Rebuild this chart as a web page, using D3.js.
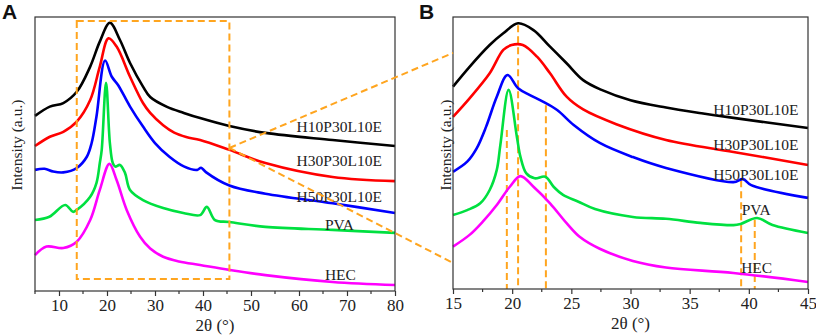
<!doctype html>
<html>
<head>
<meta charset="utf-8"/>
<script src="https://cdnjs.cloudflare.com/ajax/libs/d3/7.8.5/d3.min.js"></script>
<style>
  body { margin: 0; background: #fff; }
  svg { display: block; }
  .serif { font-family: "Liberation Serif", "Times New Roman", Times, "DejaVu Serif", serif; fill: #222; }
</style>
</head>
<body>
<svg id="chart" width="816" height="335"></svg>
<script>
// series names / colours
var names = ["H10P30L10E", "H30P30L10E", "H50P30L10E", "PVA", "HEC"];
var colors = ["#000000", "#ff0000", "#0000ff", "#00e040", "#ff00ff"];

// panel A: full scan 5-80 deg, [2theta, intensity a.u.]
var aH10 = [[5,63.9],[8.1,67.3],[10.9,68.6],[13.7,72.7],[16.5,81.9],[18.5,91.0],[20.6,97.9],[22.7,91.6],[24.8,83.2],[27.5,74.6],[29,70.8],[32.5,67.2],[36,65],[39.4,63.1],[45.5,60.2],[53,57.7],[67,55.1],[80,52.9]];
var aH30 = [[5,52.9],[8.1,56.3],[10.9,58.1],[13.7,61.8],[16.5,69.7],[18.5,81.9],[20.3,92.2],[22,89.2],[24.8,78.2],[27.5,68.6],[29,65],[31.7,60.5],[34,57.8],[36.5,56.2],[39.4,55.1],[45.5,51.5],[53,46.7],[67,41.6],[80,40.1]];
var aH50 = [[5,44.2],[7,44.6],[8.8,43.6],[10.9,43.3],[13.7,44.9],[15.8,49.0],[16.8,54.0],[17.8,63.6],[19.6,84.1],[21,78.2],[22.3,75.2],[24.8,67.3],[27.5,60],[30,54],[33,49],[36,45.5],[38.8,44.2],[39.6,45.0],[40.6,43.4],[45.5,38.5],[53,35.5],[67,32],[80,28.5]];
var aPVA = [[5,25.9],[8,27.1],[11.3,31.4],[12.9,28.9],[13.7,29.6],[16.5,34.4],[17.8,39.4],[18.5,46.7],[18.9,51.5],[19.8,76.0],[20.6,54.0],[21.2,46.7],[21.7,45.4],[22.7,46.0],[23.75,43.1],[24.8,36.9],[27.5,33.2],[31.7,30.3],[35.9,28.5],[39.4,27.7],[40.8,30.7],[42.5,25.9],[45.5,25.2],[53,23.4],[67,22.3],[80,21.2]];
var aHEC = [[5,13.1],[7.4,16.2],[10.9,15.7],[13.7,18.0],[16.5,25.9],[18.5,36.9],[20.5,46.4],[22,40.5],[24.1,29.6],[26.9,19.8],[29,15.5],[31.7,12.5],[35,10.8],[39.4,9.5],[45.5,7.7],[53,5.8],[67,3.3],[80,2.2]];

// panel B: zoom 15-45 deg
var bH10 = [[15,74.4],[16.4,81.7],[18.1,89.7],[19.25,94.0],[20.5,97.7],[21.8,95.2],[23.2,89.1],[24.6,83.0],[26,76.8],[27.5,73.3],[30,69.4],[33,66.7],[36,64.6],[38.7,62.9],[45,59.2]];
var bH30 = [[15,63.3],[16.4,70.1],[18.1,79.3],[19.25,87.9],[19.95,89.7],[20.9,89.7],[22.1,85.4],[23.2,79.3],[24.6,70.7],[26,66],[28.8,60.6],[33,54.8],[38.7,50.4],[45,45.6]];
var bH50 = [[15,43.1],[16.2,46.8],[17,51.7],[17.8,59.7],[18.7,70.7],[19.6,78.7],[20.5,73.8],[21.5,71.3],[22.6,68.9],[23.8,65.8],[25.2,60.3],[27.4,53.7],[30.2,48.5],[33,44.5],[38.7,39.3],[39.5,40.4],[40.2,38.2],[45,33.5]];
var bPVA = [[15,27.2],[16.2,29.0],[17.3,31.5],[18.1,36.4],[18.7,43.8],[19,52.9],[19.7,73.2],[20.4,55.9],[20.7,48.6],[21.2,42.5],[21.9,40.7],[22.8,41.3],[23.5,37.6],[24.3,34.6],[25.6,32.1],[27,29.4],[30.2,26.5],[33,25.8],[35.9,24.3],[38.7,23.5],[39.3,23.9],[40.7,26.1],[42,23.5],[45,20.6]];
var bHEC = [[15,15.6],[16.4,19.9],[17.5,24.7],[18.7,30.9],[19.8,37.6],[20.7,41.5],[21.8,37.6],[23.2,31.5],[24.6,24.2],[25.7,19.2],[27.4,14.8],[30.2,10.3],[33,7.9],[38.7,5.9],[45,2.6]];

// tick values
var aTicks = [10, 20, 30, 40, 50, 60, 70, 80];
var aMinor = [5, 15, 25, 35, 45, 55, 65, 75];
var bTicks = [15, 20, 25, 30, 35, 40, 45];
var bMinor = [17.5, 22.5, 27.5, 32.5, 37.5, 42.5];

// peak markers in B: [2theta, top intensity]
var bPeaks = [[19.55, 58.5], [20.5, 97], [22.85, 67.6], [39.35, 40], [40.5, 25.4]];
// zoom box in A
var aBox = {x0: 13.7, x1: 45.5, y0: 4.4, y1: 98.5};

// label anchors [2theta, intensity]
var aLabelPos = [[59.5,58.0],[59.5,45.6],[59.5,32.5],[65.4,22.3],[65.4,4.0]];
var bLabelPos = [[37.0,64.0],[37.0,51.1],[37.0,40.1],[39.4,27.2],[39.35,5.9]];

var svg = d3.select("#chart");
var orange = "#ffa51f";

function panel(opt) {
  var x = d3.scaleLinear().domain(opt.xdom).range([opt.left, opt.right]);
  var y = d3.scaleLinear().domain([0, 100]).range([opt.bottom, opt.top]);
  var g = svg.append("g");

  // dashed decorations behind the curves
  if (opt.peaks) {
    g.selectAll("line.peak").data(opt.peaks).enter().append("line")
      .attr("x1", d => x(d[0])).attr("x2", d => x(d[0]))
      .attr("y1", d => y(d[1])).attr("y2", y(0))
      .attr("stroke", orange).attr("stroke-width", 2)
      .attr("stroke-dasharray", "7,4");
  }

  var line = d3.line().x(d => x(d[0])).y(d => y(d[1])).curve(d3.curveCatmullRom.alpha(0.5));
  g.selectAll("path.s").data(opt.series).enter().append("path")
    .attr("d", line)
    .attr("fill", "none")
    .attr("stroke", (d, i) => colors[i])
    .attr("stroke-width", 2.6)
    .attr("stroke-linejoin", "round");

  if (opt.box) {
    var b = opt.box;
    g.append("rect")
      .attr("x", x(b.x0)).attr("y", y(b.y1))
      .attr("width", x(b.x1) - x(b.x0)).attr("height", y(b.y0) - y(b.y1))
      .attr("fill", "none").attr("stroke", orange).attr("stroke-width", 2)
      .attr("stroke-dasharray", "7,4");
  }

  // frame
  g.append("rect")
    .attr("x", opt.left).attr("y", opt.top)
    .attr("width", opt.right - opt.left).attr("height", opt.bottom - opt.top)
    .attr("fill", "none").attr("stroke", "#333").attr("stroke-width", 1.2);

  // x axis
  var ax = g.append("g").attr("transform", "translate(0," + opt.bottom + ")")
    .call(d3.axisBottom(x).tickValues(opt.ticks).tickSize(5).tickPadding(3).tickFormat(d3.format("d")));
  ax.attr("font-family", null).attr("font-size", null);
  ax.select(".domain").remove();
  ax.selectAll("line").attr("stroke", "#333").attr("stroke-width", 1.2);
  ax.selectAll("text").attr("class", "serif").style("font-size", "17px").attr("fill", "#222");
  g.selectAll("line.minor").data(opt.minor).enter().append("line")
    .attr("x1", d => x(d)).attr("x2", d => x(d))
    .attr("y1", opt.bottom).attr("y2", opt.bottom + 3)
    .attr("stroke", "#333").attr("stroke-width", 1.2);

  g.append("text").attr("class", "serif")
    .attr("x", (opt.left + opt.right) / 2).attr("y", opt.bottom + 40)
    .attr("text-anchor", "middle").style("font-size", "17px")
    .text("2\u03b8 (\u00b0)");

  g.append("text").attr("class", "serif")
    .attr("transform", "translate(" + opt.ylabX + ",145) rotate(-90)")
    .attr("text-anchor", "middle").style("font-size", "15.5px")
    .text("Intensity (a.u.)");

  g.selectAll("text.lab").data(opt.labels).enter().append("text")
    .attr("class", "serif")
    .attr("x", d => x(d[0])).attr("y", d => y(d[1]))
    .style("font-size", "15.5px")
    .text((d, i) => names[i]);

  g.append("text")
    .attr("x", opt.letterX).attr("y", 19)
    .style("font-family", "Liberation Sans, Arial, sans-serif").style("font-weight", "bold").style("font-size", "21px")
    .attr("fill", "#111")
    .text(opt.letter);

  return {x: x, y: y};
}

var A = panel({
  xdom: [5, 80], left: 35, right: 395, top: 17, bottom: 291,
  series: [aH10, aH30, aH50, aPVA, aHEC], ticks: aTicks, minor: aMinor,
  labels: aLabelPos, box: aBox, ylabX: 21.5, letter: "A", letterX: 2
});
var B = panel({
  xdom: [15, 45], left: 453, right: 808, top: 17, bottom: 289,
  series: [bH10, bH30, bH50, bPVA, bHEC], ticks: bTicks, minor: bMinor,
  labels: bLabelPos, peaks: bPeaks, ylabX: 450.5, letter: "B", letterX: 419
});

// zoom connector lines from the A box to B
var from = [A.x(aBox.x1), A.y(52.2)];
[86.8, 9.6].forEach(function (v) {
  svg.append("line")
    .attr("x1", from[0]).attr("y1", from[1])
    .attr("x2", B.x(15)).attr("y2", B.y(v))
    .attr("stroke", orange).attr("stroke-width", 2)
    .attr("stroke-dasharray", "7,4");
});
</script>
</body>
</html>
